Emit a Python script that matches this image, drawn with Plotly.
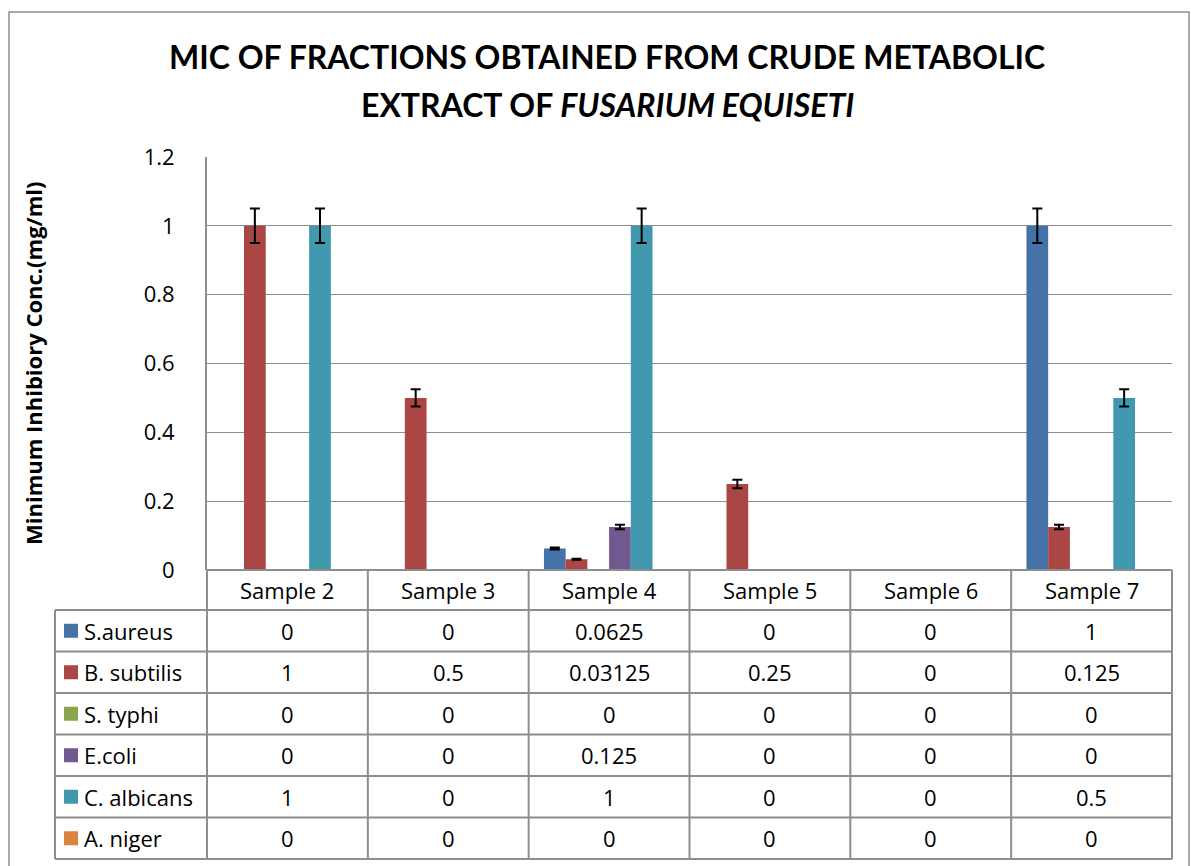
import plotly.graph_objects as go

categories = ["Sample 2", "Sample 3", "Sample 4", "Sample 5", "Sample 6", "Sample 7"]
series_names = ["S.aureus", "B. subtilis", "S. typhi", "E.coli", "C. albicans", "A. niger"]
s_aureus = [0, 0, 0.0625, 0, 0, 1]
b_subtilis = [1, 0.5, 0.03125, 0.25, 0, 0.125]
s_typhi = [0, 0, 0, 0, 0, 0]
e_coli = [0, 0, 0.125, 0, 0, 0]
c_albicans = [1, 0, 1, 0, 0, 0.5]
a_niger = [0, 0, 0, 0, 0, 0]
series_values = [s_aureus, b_subtilis, s_typhi, e_coli, c_albicans, a_niger]
colors = ["#4572A7", "#AA4643", "#89A54E", "#71588F", "#4198AF", "#DB843D"]
error_percent = 5

W, H = 1191, 866
PL, PR, PT, PB = 207, 1172, 157, 570
FONT = "Open Sans"
TFONT = "Lato"

def px(x):
    return (x - PL) / (PR - PL)

def py(y):
    return (PB - y) / (PB - PT)

fig = go.Figure()
for name, vals, col in zip(series_names, series_values, colors):
    fig.add_trace(go.Bar(
        x=categories, y=vals, name=name, marker=dict(color=col, line=dict(width=0)),
        error_y=dict(type="percent", value=error_percent, color="black", thickness=2, width=5),
    ))

shapes = []
annots = []
line_col = "#8e8e8e"

# outer border
shapes.append(dict(type="rect", xref="paper", yref="paper", x0=px(9), x1=px(1189), y0=py(870), y1=py(12),
                   line=dict(color=line_col, width=1.5), fillcolor="rgba(0,0,0,0)", layer="below"))

# table geometry
cw = (PR - PL) / len(categories)
row_top = 610
rh = (859 - row_top) / len(series_names)
tab_left = 55
shapes.append(dict(type="line", xref="paper", yref="paper", x0=px(PL), x1=px(PR), y0=py(570), y1=py(570),
                   line=dict(color=line_col, width=2)))
for k in range(len(series_names) + 1):
    yy = row_top + rh * k
    shapes.append(dict(type="line", xref="paper", yref="paper", x0=px(tab_left), x1=px(PR), y0=py(yy), y1=py(yy),
                       line=dict(color=line_col, width=2)))
shapes.append(dict(type="line", xref="paper", yref="paper", x0=px(tab_left), x1=px(tab_left), y0=py(row_top), y1=py(859),
                   line=dict(color=line_col, width=2)))
for j in range(len(categories) + 1):
    xx = PL + cw * j
    shapes.append(dict(type="line", xref="paper", yref="paper", x0=px(xx), x1=px(xx), y0=py(570), y1=py(859),
                       line=dict(color=line_col, width=2)))

tfont = dict(family=FONT, size=22, color="black")
for j, c in enumerate(categories):
    annots.append(dict(text=c, xref="paper", yref="paper", x=px(PL + cw * (j + 0.5)), y=py(590),
                       showarrow=False, font=tfont, xanchor="center", yanchor="middle"))
for k, (name, vals, col) in enumerate(zip(series_names, series_values, colors)):
    yc = row_top + rh * (k + 0.5)
    shapes.append(dict(type="rect", xref="paper", yref="paper", x0=px(64), x1=px(78), y0=py(yc + 7), y1=py(yc - 7),
                       fillcolor=col, line=dict(width=0)))
    annots.append(dict(text=name, xref="paper", yref="paper", x=px(82), y=py(yc),
                       showarrow=False, font=tfont, xanchor="left", yanchor="middle"))
    for j, v in enumerate(vals):
        annots.append(dict(text=f"{v:g}", xref="paper", yref="paper", x=px(PL + cw * (j + 0.5)), y=py(yc),
                           showarrow=False, font=tfont, xanchor="center", yanchor="middle"))

# title
annots.append(dict(text="<b>MIC OF FRACTIONS OBTAINED FROM CRUDE METABOLIC</b>", xref="paper", yref="paper",
                   x=px(607), y=py(57), showarrow=False, font=dict(family=TFONT, size=32, color="black"),
                   xanchor="center", yanchor="middle"))
annots.append(dict(text="<b>EXTRACT OF <i>FUSARIUM EQUISETI</i></b>", xref="paper", yref="paper",
                   x=px(607), y=py(104), showarrow=False, font=dict(family=TFONT, size=32, color="black"),
                   xanchor="center", yanchor="middle"))
# y axis title
annots.append(dict(text="<b>Minimum Inhibiory Conc.(mg/ml)</b>", xref="paper", yref="paper",
                   x=px(33), y=py(364), showarrow=False, textangle=-90,
                   font=dict(family=FONT, size=22, color="black"), xanchor="center", yanchor="middle"))

fig.update_layout(
    width=W, height=H,
    margin=dict(l=PL, r=W - PR, t=PT, b=H - PB),
    paper_bgcolor="white", plot_bgcolor="white",
    barmode="group", bargap=0.19, bargroupgap=0,
    showlegend=False,
    shapes=shapes, annotations=annots,
    font=dict(family=FONT, color="black"),
)
fig.update_xaxes(showticklabels=False, showgrid=False, zeroline=False, showline=False, ticks="")
fig.update_yaxes(range=[0, 1.2], dtick=0.2, showgrid=True, gridcolor=line_col, gridwidth=1,
                 zeroline=False, showline=True, linecolor=line_col, linewidth=2,
                 ticks="", ticklabelstandoff=26, tickfont=dict(family=FONT, size=22, color="black"))

fig.write_html("out.html", config={"displayModeBar": False},
               post_script="document.body.style.margin='0px';")
